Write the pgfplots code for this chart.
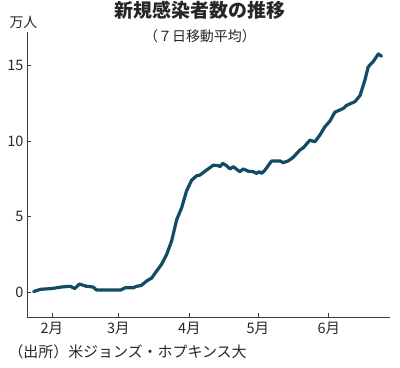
\documentclass[border=0pt]{standalone}
\usepackage{fontspec}
\setmainfont{Noto Sans CJK JP}
\usepackage{pgfplots}
\pgfplotsset{compat=1.18}
\definecolor{linec}{RGB}{18,75,100}
\definecolor{axc}{RGB}{60,60,60}
\begin{document}
\begin{tikzpicture}[x=1bp,y=1bp]
\useasboundingbox (0,0) rectangle (400,368);
\begin{axis}[
  at={(27bp,51bp)}, anchor=south west,
  scale only axis, width=363bp, height=285bp,
  xmin=21.1, xmax=179.7, ymin=-1.63, ymax=17.2,
  axis lines=left, axis line style={-, draw=axc, line width=0.8pt},
  tick align=inside, major tick length=4bp,
  tick style={draw=axc, line width=0.8pt},
  xtick={32,61,92,122,153}, xticklabels={2月,3月,4月,5月,6月},
  ytick={0,5,10,15},
  /pgf/number format/assume math mode=true,
  ticklabel style={font=\fontsize{14.5}{16}\selectfont, text=black!85},
  xticklabel style={yshift=-2bp},
  clip=false,
]
\addplot[linec, line width=3.2bp, line join=round, line cap=round] coordinates {
(24,0.05)(27,0.2)(32,0.25)(36,0.35)(40,0.4)(42,0.25)(44,0.55)(47,0.4)(50,0.35)(51.5,0.15)(62,0.15)(64,0.3)(67.5,0.3)(69,0.4)(71,0.45)(73.4,0.75)(75.6,0.95)(77.7,1.4)(79.9,1.85)(82.1,2.5)(84.3,3.4)(86.5,4.8)(88.7,5.6)(90.8,6.7)(93,7.4)(95.2,7.7)(96.7,7.75)(99.6,8.08)(102.5,8.4)(104.7,8.37)(105.4,8.3)(106.6,8.52)(108.3,8.37)(109.8,8.15)(111.2,8.3)(112.7,8.13)(114.1,7.97)(115.6,8.15)(117.8,8.0)(119.9,7.97)(121.4,7.86)(122.6,7.97)(123.6,7.86)(125.1,8.08)(127.2,8.52)(128,8.68)(131.6,8.68)(133,8.57)(135.2,8.68)(137.4,8.92)(140.3,9.4)(141.8,9.55)(144.7,10.05)(146.9,9.95)(149.1,10.4)(151.3,10.95)(153.4,11.3)(155.6,11.9)(159.3,12.15)(160.7,12.35)(164.4,12.6)(166.6,13.0)(168.7,14.0)(170.2,14.9)(172.4,15.25)(174.6,15.75)(176,15.6)
};
\end{axis}
\node[font=\fontsize{19}{22}\selectfont\bfseries, text=black!85] at (200,358) {新規感染者数の推移};
\node[font=\fontsize{14}{16}\selectfont, text=black!85] at (200,331.5) {（７日移動平均）};
\node[font=\fontsize{14}{16}\selectfont, text=black!85] at (23.5,345.5) {万人};
\node[font=\fontsize{15}{18}\selectfont, text=black!85, anchor=west] at (5,16) {（出所）米ジョンズ・ホプキンス大};
\end{tikzpicture}
\end{document}
